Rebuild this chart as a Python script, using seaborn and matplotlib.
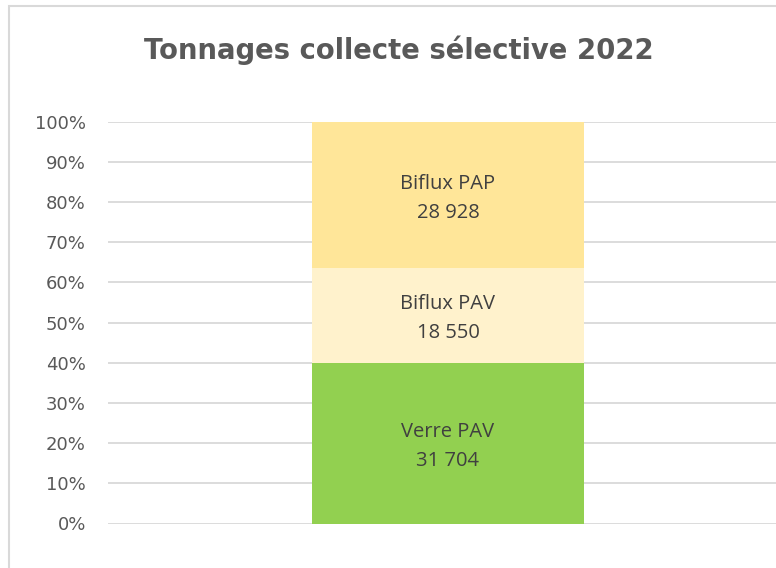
import matplotlib
matplotlib.use("Agg")
import matplotlib.pyplot as plt
import matplotlib.patches as mpatches
import matplotlib.transforms as mtransforms
import numpy as np
import pandas as pd
import seaborn as sns

# ---- data ----
categories = ["Verre PAV", "Biflux PAV", "Biflux PAP"]
tonnages = [31704, 18550, 28928]
colors = ["#92D050", "#FFF2CC", "#FFE699"]
yticks = [0, 0.1, 0.2, 0.3, 0.4, 0.5, 0.6, 0.7, 0.8, 0.9, 1.0]
ytick_labels = ["0%", "10%", "20%", "30%", "40%", "50%", "60%", "70%", "80%", "90%", "100%"]
title = "Tonnages collecte sélective 2022"

sns.set_theme(style="white")
plt.rcParams["font.family"] = ["DejaVu Sans"]

W, H = 776, 568
fig = plt.figure(figsize=(W / 100, H / 100), dpi=100)
fig.patch.set_facecolor("white")

ax = fig.add_axes([108 / W, 44.5 / H, 680 / W, 401.8 / H])

total = float(sum(tonnages))
shares = np.array(tonnages) / total
cum = np.cumsum(shares)

# draw cumulative bars from top down so that each segment is visible
for i in reversed(range(len(categories))):
    df = pd.DataFrame({"grp": ["2022"], "val": [cum[i]]})
    sns.barplot(data=df, x="grp", y="val", color=colors[i], width=0.4,
                saturation=1, ax=ax, zorder=2, linewidth=0)

# labels (slightly below segment centre, as in the reference)
offset = mtransforms.offset_copy(ax.transData, fig=fig, x=0, y=-3, units="dots")
for i, cat in enumerate(categories):
    bottom = cum[i] - shares[i]
    mid = bottom + shares[i] / 2
    num = f"{tonnages[i]:,}".replace(",", " ")
    ax.text(0, mid, f"{cat}\n{num}", ha="center", va="center",
            fontsize=14.5, color="#404040", family=["Open Sans", "DejaVu Sans"],
            linespacing=1.6, zorder=3, transform=offset)

ax.set_xlim(-0.5, 0.5)
ax.set_ylim(0, 1.0)
ax.set_yticks(yticks)
ax.set_yticklabels(ytick_labels, fontsize=13, color="#595959")
ax.tick_params(axis="y", length=0, pad=16)
ax.set_xticks([])
ax.set_xlabel("")
ax.set_ylabel("")
ax.yaxis.grid(True, color="#D9D9D9", linewidth=1.3, zorder=0)
ax.set_axisbelow(True)
for s in ax.spines.values():
    s.set_visible(False)

fig.text(399 / W, 1 - 50 / H, title, ha="center", va="center",
         fontsize=19.8, fontweight="bold", color="#595959")

# chart border
rect = mpatches.Rectangle((8.5 / W, -0.1), 1.2, 1 - 6.5 / H + 0.1,
                          transform=fig.transFigure, fill=False,
                          edgecolor="#D9D9D9", linewidth=1.5, clip_on=False)
fig.add_artist(rect)

fig.savefig("out.png", dpi=100, facecolor="white")
